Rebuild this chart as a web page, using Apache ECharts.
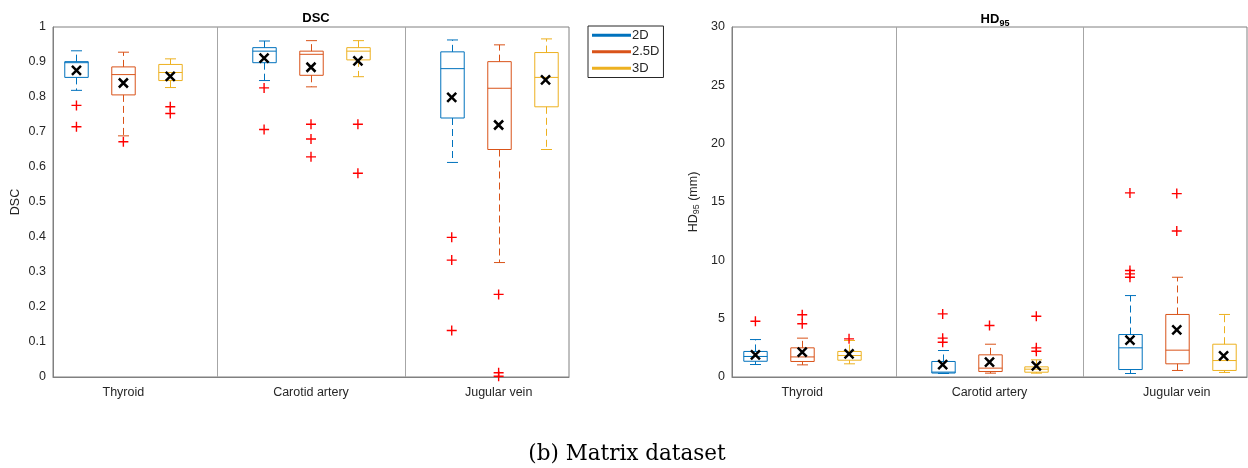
<!DOCTYPE html>
<html>
<head>
<meta charset="utf-8">
<script src="https://cdn.jsdelivr.net/npm/echarts@6/dist/echarts.min.js"></script>
<style>html,body{margin:0;padding:0;background:#fff}#c{width:1248px;height:468px}</style>
</head>
<body>
<div id="c"></div>
<script>
// ---------- data ----------
const categories = ['Thyroid', 'Carotid artery', 'Jugular vein'];
const methods = ['2D', '2.5D', '3D'];
const colors = ['#0072BD', '#D95319', '#EDB120'];

// box stats per category: [lowerWhisker, q1, median, q3, upperWhisker]
const dsc2D  = [[0.819, 0.856, 0.898, 0.901, 0.932], [0.847, 0.898, 0.931, 0.941, 0.960], [0.613, 0.740, 0.881, 0.929, 0.963]];
const dsc25D = [[0.689, 0.806, 0.864, 0.886, 0.928], [0.829, 0.862, 0.922, 0.931, 0.961], [0.327, 0.650, 0.825, 0.901, 0.949]];
const dsc3D  = [[0.827, 0.847, 0.870, 0.893, 0.909], [0.858, 0.906, 0.931, 0.941, 0.961], [0.650, 0.772, 0.856, 0.927, 0.966]];
const dscMean2D  = [0.876, 0.911, 0.799];
const dscMean25D = [0.840, 0.885, 0.720];
const dscMean3D  = [0.859, 0.903, 0.849];
const dscOut2D  = [[0.776, 0.715], [0.826, 0.707], [0.399, 0.334, 0.133]];
const dscOut25D = [[0.672], [0.722, 0.680, 0.629], [0.236, 0.012, 0.002]];
const dscOut3D  = [[0.772, 0.753], [0.722, 0.582], []];

const hd2D  = [[1.07, 1.35, 1.76, 2.19, 3.21], [0.30, 0.34, 0.42, 1.33, 2.27], [0.30, 0.64, 2.50, 3.64, 6.98]];
const hd25D = [[1.04, 1.33, 1.72, 2.50, 3.33], [0.33, 0.47, 0.76, 1.90, 2.81], [0.56, 1.13, 2.30, 5.36, 8.55]];
const hd3D  = [[1.13, 1.44, 1.84, 2.19, 3.13], [0.33, 0.41, 0.67, 0.87, 1.47], [0.39, 0.56, 1.41, 2.81, 5.36]];
const hdMean2D  = [1.90, 1.07, 3.16];
const hdMean25D = [2.13, 1.27, 4.04];
const hdMean3D  = [1.99, 0.96, 1.82];
const hdOut2D  = [[4.78], [5.41, 3.33, 2.98], [15.78, 9.13, 8.84, 8.55]];
const hdOut25D = [[5.33, 4.56], [4.41], [15.72, 12.52]];
const hdOut3D  = [[3.27], [5.21, 2.50, 2.21], []];

const dscTicks = {min: 0, max: 1, interval: 0.1};
const hdTicks = {min: 0, max: 30, interval: 5};

// ---------- build ----------
const TXT = '#262626';
const FONT = '"Liberation Sans", Arial, sans-serif';
const posOf = (c, m) => c * 4 + m + 1;

function boxSeries(stats, m, gi) {
  return {
    type: 'custom', name: methods[m], xAxisIndex: gi, yAxisIndex: gi,
    color: colors[m], clip: false, z: 3,
    encode: {x: 0, y: [1, 2, 3, 4, 5]},
    data: stats.map((s, c) => [posOf(c, m)].concat(s)),
    renderItem: function (params, api) {
      const x = api.value(0);
      const lo = api.coord([x, api.value(1)]);
      const q1 = api.coord([x, api.value(2)]);
      const md = api.coord([x, api.value(3)]);
      const q3 = api.coord([x, api.value(4)]);
      const hi = api.coord([x, api.value(5)]);
      const hw = (api.coord([x + 0.25, 0])[0] - api.coord([x - 0.25, 0])[0]) / 2;
      const cw = hw * 0.47;
      const cx = Math.round(lo[0]) + 0.5;
      const col = colors[m];
      const solid = {stroke: col, lineWidth: 1, fill: null};
      const dash = {stroke: col, lineWidth: 1, fill: null, lineDash: [7, 4]};
      return {
        type: 'group', children: [
          {type: 'line', shape: {x1: cx, y1: q3[1], x2: cx, y2: hi[1]}, style: dash},
          {type: 'line', shape: {x1: cx, y1: q1[1], x2: cx, y2: lo[1]}, style: dash},
          {type: 'line', shape: {x1: cx - cw, y1: hi[1], x2: cx + cw, y2: hi[1]}, style: solid},
          {type: 'line', shape: {x1: cx - cw, y1: lo[1], x2: cx + cw, y2: lo[1]}, style: solid},
          {type: 'rect', shape: {x: cx - hw, y: q3[1], width: 2 * hw, height: q1[1] - q3[1]}, style: solid},
          {type: 'line', shape: {x1: cx - hw, y1: md[1], x2: cx + hw, y2: md[1]}, style: solid}
        ]
      };
    }
  };
}

function outlierSeries(outs, m, gi, withDividers) {
  const data = [];
  outs.forEach((arr, c) => arr.forEach(v => data.push([posOf(c, m), v])));
  const s = {
    type: 'scatter', xAxisIndex: gi, yAxisIndex: gi, data: data, z: 4,
    symbol: 'path://M5,0 L5,10 M0,5 L10,5', symbolSize: 10, silent: true,
    itemStyle: {color: 'rgba(0,0,0,0)', borderColor: '#FF0000', borderWidth: 1.4, opacity: 1}
  };
  if (withDividers) {
    s.markLine = {
      silent: true, symbol: 'none', label: {show: false},
      lineStyle: {color: '#a6a6a6', width: 1, type: 'solid'},
      data: [{xAxis: 4}, {xAxis: 8}]
    };
  }
  return s;
}

function meanSeries(means, m, gi) {
  return {
    type: 'scatter', xAxisIndex: gi, yAxisIndex: gi, z: 5, silent: true,
    data: means.map((v, c) => [posOf(c, m), v]),
    symbol: 'path://M0,0 L10,10 M10,0 L0,10', symbolSize: 9,
    itemStyle: {color: 'rgba(0,0,0,0)', borderColor: '#000', borderWidth: 2.5, opacity: 1}
  };
}

const dscStats = [dsc2D, dsc25D, dsc3D], dscMeans = [dscMean2D, dscMean25D, dscMean3D], dscOuts = [dscOut2D, dscOut25D, dscOut3D];
const hdStats = [hd2D, hd25D, hd3D], hdMeans = [hdMean2D, hdMean25D, hdMean3D], hdOuts = [hdOut2D, hdOut25D, hdOut3D];

const series = [];
[0, 1, 2].forEach(m => {
  series.push(boxSeries(dscStats[m], m, 0));
  series.push(boxSeries(hdStats[m], m, 1));
});
[0, 1, 2].forEach(m => {
  series.push(outlierSeries(dscOuts[m], m, 0, m === 0));
  series.push(outlierSeries(hdOuts[m], m, 1, m === 0));
  series.push(meanSeries(dscMeans[m], m, 0));
  series.push(meanSeries(hdMeans[m], m, 1));
});

function xAxis(gi) {
  return {
    type: 'value', gridIndex: gi, min: 0.5, max: 11.5,
    axisLine: {show: true, lineStyle: {color: '#808080', width: 1}},
    axisTick: {show: false}, splitLine: {show: false},
    axisLabel: {
      customValues: [2, 6, 10], color: TXT, fontSize: 12.5, fontFamily: FONT, margin: 9,
      formatter: v => categories[Math.round((v - 2) / 4)] || ''
    }
  };
}

function yAxis(gi, t, name, nameGap, fmt) {
  return {
    type: 'value', gridIndex: gi, min: t.min, max: t.max, interval: t.interval,
    axisLine: {show: true, lineStyle: {color: '#808080', width: 1}},
    axisTick: {show: false}, splitLine: {show: false},
    axisLabel: {color: TXT, fontSize: 12.5, fontFamily: FONT, margin: 7, formatter: fmt},
    name: name, nameLocation: 'middle', nameGap: nameGap, nameRotate: 90,
    nameTextStyle: {
      color: TXT, fontSize: 12.5, fontFamily: FONT,
      rich: {
        a: {color: TXT, fontSize: 12.5, fontFamily: FONT},
        b: {color: TXT, fontSize: 9, fontFamily: FONT, verticalAlign: 'bottom', padding: [6, 0, 0, 0]}
      }
    }
  };
}

const option = {
  animation: false,
  backgroundColor: '#fff',
  title: [
    {text: 'DSC', left: 311, top: 7, textAlign: 'center',
     textStyle: {color: '#000', fontSize: 13, fontWeight: 'bold', fontFamily: FONT}},
    {text: '{a|HD}{b|95}', left: 990, top: 6, textAlign: 'center',
     textStyle: {rich: {
       a: {color: '#000', fontSize: 13, fontWeight: 'bold', fontFamily: FONT},
       b: {color: '#000', fontSize: 9, fontWeight: 'bold', fontFamily: FONT, padding: [8, 0, 0, 0]}
     }}}
  ],
  legend: {
    data: methods.map((n, i) => ({name: n, itemStyle: {color: colors[i]}})),
    orient: 'vertical', left: 588, top: 26, padding: [2, 4, 2, 4],
    borderColor: '#262626', borderWidth: 1, backgroundColor: '#fff',
    icon: 'rect', itemWidth: 39, itemHeight: 3, itemGap: 2,
    textStyle: {color: TXT, fontSize: 13, fontFamily: FONT, padding: [0, 0, 0, -4], lineHeight: 14.5},
    selectedMode: false
  },
  grid: [
    {left: 53, top: 27, width: 516, height: 350, show: true, borderColor: '#808080', borderWidth: 1, backgroundColor: 'transparent'},
    {left: 732, top: 27, width: 515, height: 350, show: true, borderColor: '#808080', borderWidth: 1, backgroundColor: 'transparent'}
  ],
  xAxis: [xAxis(0), xAxis(1)],
  yAxis: [
    yAxis(0, dscTicks, 'DSC', 31, v => String(parseFloat(v.toFixed(1)))),
    yAxis(1, hdTicks, '{a|HD}{b|95}{a| (mm)}', 31, v => String(v))
  ],
  graphic: [{
    type: 'text', x: 627, y: 443,
    style: {text: '(b) Matrix dataset', fill: '#000', font: '21.5px "DejaVu Serif", "Liberation Serif", serif', textAlign: 'center'}
  }],
  series: series
};

const chart = echarts.init(document.getElementById('c'), null, {renderer: 'canvas'});
chart.setOption(option);
</script>
</body>
</html>
